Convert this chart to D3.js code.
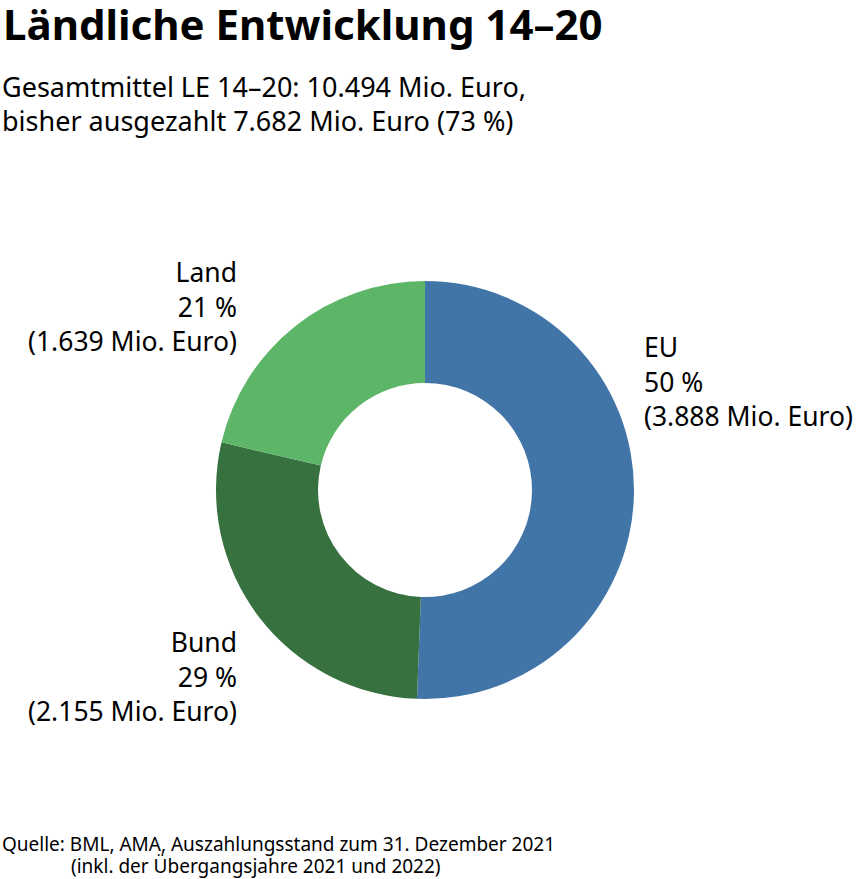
<!DOCTYPE html>
<html>
<head>
<meta charset="utf-8">
<script src="https://cdn.jsdelivr.net/npm/d3@7"></script>
<style>
  body { margin: 0; background: #fff; }
  svg { display: block; font-family: "Noto Sans", Lato, sans-serif; }
</style>
</head>
<body>
<svg id="chart"></svg>
<script>
// chart values
const categories = ["EU", "Bund", "Land"];
const amounts = [3888, 2155, 1639];          // Mio. Euro
const shares = ["50 %", "29 %", "21 %"];
const colors = ["#4175a8", "#37713f", "#5db567"];

const width = 863, height = 879;
const cx = 425, cy = 490;
const outerR = 209, innerR = 107;

const svg = d3.select("#chart")
    .attr("width", width)
    .attr("height", height);

// title + subtitle
svg.append("text")
    .attr("x", 3).attr("y", 40)
    .attr("font-size", 42).attr("font-weight", 700)
    .attr("fill", "#000")
    .text("Ländliche Entwicklung 14–20");

const sub = ["Gesamtmittel LE 14–20: 10.494 Mio. Euro,", "bisher ausgezahlt 7.682 Mio. Euro (73 %)"];
svg.append("g").selectAll("text")
  .data(sub)
  .join("text")
    .attr("x", 2)
    .attr("y", (d, i) => 97 + i * 34)
    .attr("font-size", 27)
    .attr("fill", "#000")
    .text(d => d);

// donut
const data = categories.map((c, i) => ({ name: c, value: amounts[i], share: shares[i], color: colors[i] }));

const pie = d3.pie().value(d => d.value).sort(null);
const arc = d3.arc().innerRadius(innerR).outerRadius(outerR);

const g = svg.append("g").attr("transform", `translate(${cx},${cy})`);
g.selectAll("path")
  .data(pie(data))
  .join("path")
    .attr("d", arc)
    .attr("fill", d => d.data.color);

// labels, placed beside the ring
const fmt = v => d3.format(",")(v).replace(/,/g, ".");
const labelPos = {
  EU:   { x: outerR + 10, y: -133, anchor: "start" },
  Bund: { x: -188, y: 162, anchor: "end" },
  Land: { x: -188, y: -208, anchor: "end" }
};

data.forEach(d => {
  const p = labelPos[d.name];
  const t = g.append("text")
      .attr("text-anchor", p.anchor)
      .attr("font-size", 26.5)
      .attr("fill", "#000");
  [d.name, d.share, `(${fmt(d.value)} Mio. Euro)`].forEach((line, i) => {
    t.append("tspan")
        .attr("x", p.x)
        .attr("y", p.y + i * 34.5)
        .text(line);
  });
});

// source
const src = svg.append("text").attr("font-size", 19).attr("fill", "#000");
src.append("tspan").attr("x", 2).attr("y", 851).text("Quelle: BML, AMA, Auszahlungsstand zum 31. Dezember 2021");
src.append("tspan").attr("x", 71).attr("y", 873).text("(inkl. der Übergangsjahre 2021 und 2022)");
</script>
</body>
</html>
